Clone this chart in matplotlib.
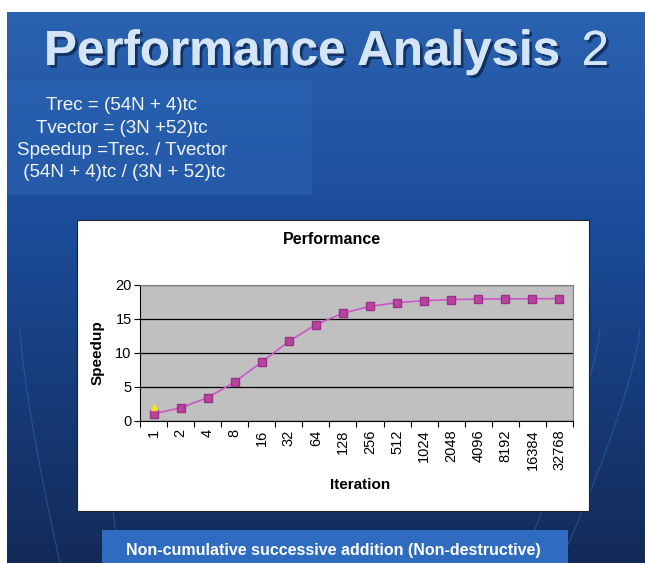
import numpy as np
import matplotlib
matplotlib.use("Agg")
import matplotlib.pyplot as plt
from matplotlib.patches import Rectangle
import matplotlib.patheffects as pe

plt.rcParams['font.family'] = ['Liberation Sans', 'DejaVu Sans']

# ---- data ----
iterations = ['1', '2', '4', '8', '16', '32', '64', '128', '256', '512',
              '1024', '2048', '4096', '8192', '16384', '32768']
speedup = [1.05, 1.93, 3.44, 5.74, 8.68, 11.70, 14.18, 15.86, 16.86, 17.41,
           17.70, 17.85, 17.92, 17.96, 17.98, 17.99]
marker_series = [2.0]
y_ticks = [0, 5, 10, 15, 20]

formula_lines = ["Trec = (54N + 4)tc",
                 "Tvector = (3N +52)tc",
                 "Speedup =Trec. / Tvector",
                 " (54N + 4)tc / (3N + 52)tc"]

W, H = 645, 563
fig = plt.figure(figsize=(W / 100, H / 100), dpi=100)

def fx(px):
    return px / W

def fy(py):
    return 1 - py / H

# ---- background ----
bg = fig.add_axes([0, 0, 1, 1])
bg.set_xlim(0, W)
bg.set_ylim(H, 0)
bg.axis('off')
top = np.array([0x2c, 0x64, 0xb2]) / 255
mid = np.array([0x1b, 0x4c, 0x9a]) / 255
bot = np.array([0x13, 0x2a, 0x58]) / 255
t = np.linspace(0, 1, 300)[:, None]
grad = np.where(t < 0.4, top + (mid - top) * (t / 0.4), mid + (bot - mid) * ((t - 0.4) / 0.6))
img = np.repeat(grad[:, None, :], 2, axis=1)
bg.imshow(img, extent=[0, W, H, 0], aspect='auto', zorder=0)
# formula panel
bg.add_patch(Rectangle((7, 80), 305, 115, color='#2a63b2', alpha=0.55, zorder=1, lw=0))
# faint decorative curves
for x0, x1 in [(20, 60), (95, 120), (600, 520), (640, 560)]:
    yy = np.linspace(330, H, 50)
    xx = x0 + (x1 - x0) * ((yy - 330) / (H - 330)) ** 1.3
    bg.plot(xx, yy, color='#3a6cc0', lw=0.8, alpha=0.5, zorder=1)
# white margins
bg.add_patch(Rectangle((0, 0), W, 12, color='white', zorder=2, lw=0))
bg.add_patch(Rectangle((0, 0), 7, H, color='white', zorder=2, lw=0))
# chart box
bg.add_patch(Rectangle((77, 220), 512, 291, facecolor='white', edgecolor='#222222', lw=0.8, zorder=3))
# bottom box
bg.add_patch(Rectangle((102, 530), 466, 40, facecolor='#2f6cbf', lw=0, zorder=3))

shadow = [pe.withSimplePatchShadow(offset=(2, -2), shadow_rgbFace='#0a1f45', alpha=0.7), pe.Normal()]
fig.text(fx(44), fy(65), "Performance Analysis", fontsize=35.5, fontweight='bold',
         color='#d3e5f6', ha='left', va='baseline', path_effects=shadow)
fig.text(fx(609), fy(65), "2", fontsize=35.5, color='#d3e5f6', ha='right', va='baseline',
         path_effects=shadow)

for i, line in enumerate(formula_lines):
    fig.text(fx(122), fy(106 + i * 22.3), line, fontsize=13.5, color='#f2f6fb',
             ha='center', va='center')

fig.text(fx(333), fy(550), "Non-cumulative successive addition (Non-destructive)",
         fontsize=11.5, fontweight='bold', color='white', ha='center', va='center')

fig.text(fx(332), fy(240), "Performance", fontsize=11.5, fontweight='bold',
         color='black', ha='center', va='center')

# ---- chart ----
ax = fig.add_axes([fx(140), fy(421), fx(573) - fx(140), fy(285) - fy(421)])
ax.set_facecolor('#c0c0c0')
x = np.arange(len(iterations))
ax.plot(x, speedup, color='#cc55c8', lw=1.2, marker='s', markersize=6,
        markerfacecolor='#b8449e', markeredgecolor='#9a3088', zorder=4)
ax.plot(x[:len(marker_series)], marker_series, linestyle='none', marker='^',
        markersize=5, color='#f2e41c', zorder=5)
ax.set_xlim(-0.5, len(iterations) - 0.5)
ax.set_ylim(0, 20)
ax.set_yticks(y_ticks)
ax.set_yticklabels([str(v) for v in y_ticks], fontsize=10.5)
ax.yaxis.grid(True, color='black', lw=0.9)
ax.set_axisbelow(True)
ax.set_xticks(np.arange(len(iterations) + 1) - 0.5)
ax.set_xticklabels([])
ax.set_xticks(x, minor=True)
ax.set_xticklabels(iterations, minor=True, rotation=90, fontsize=10.5)
ax.tick_params(axis='x', which='minor', length=0, pad=6)
ax.tick_params(axis='x', which='major', length=4, direction='out')
ax.tick_params(axis='y', length=4, direction='out', pad=2)
for s in ['left', 'bottom']:
    ax.spines[s].set_color('black')
for s in ['top', 'right']:
    ax.spines[s].set_color('#808080')
ax.set_ylabel("Speedup", fontsize=11, fontweight='bold', labelpad=8)
fig.text(fx(360), fy(485), "Iteration", fontsize=11, fontweight='bold',
         ha='center', va='center')

fig.savefig("out.png", dpi=100)
